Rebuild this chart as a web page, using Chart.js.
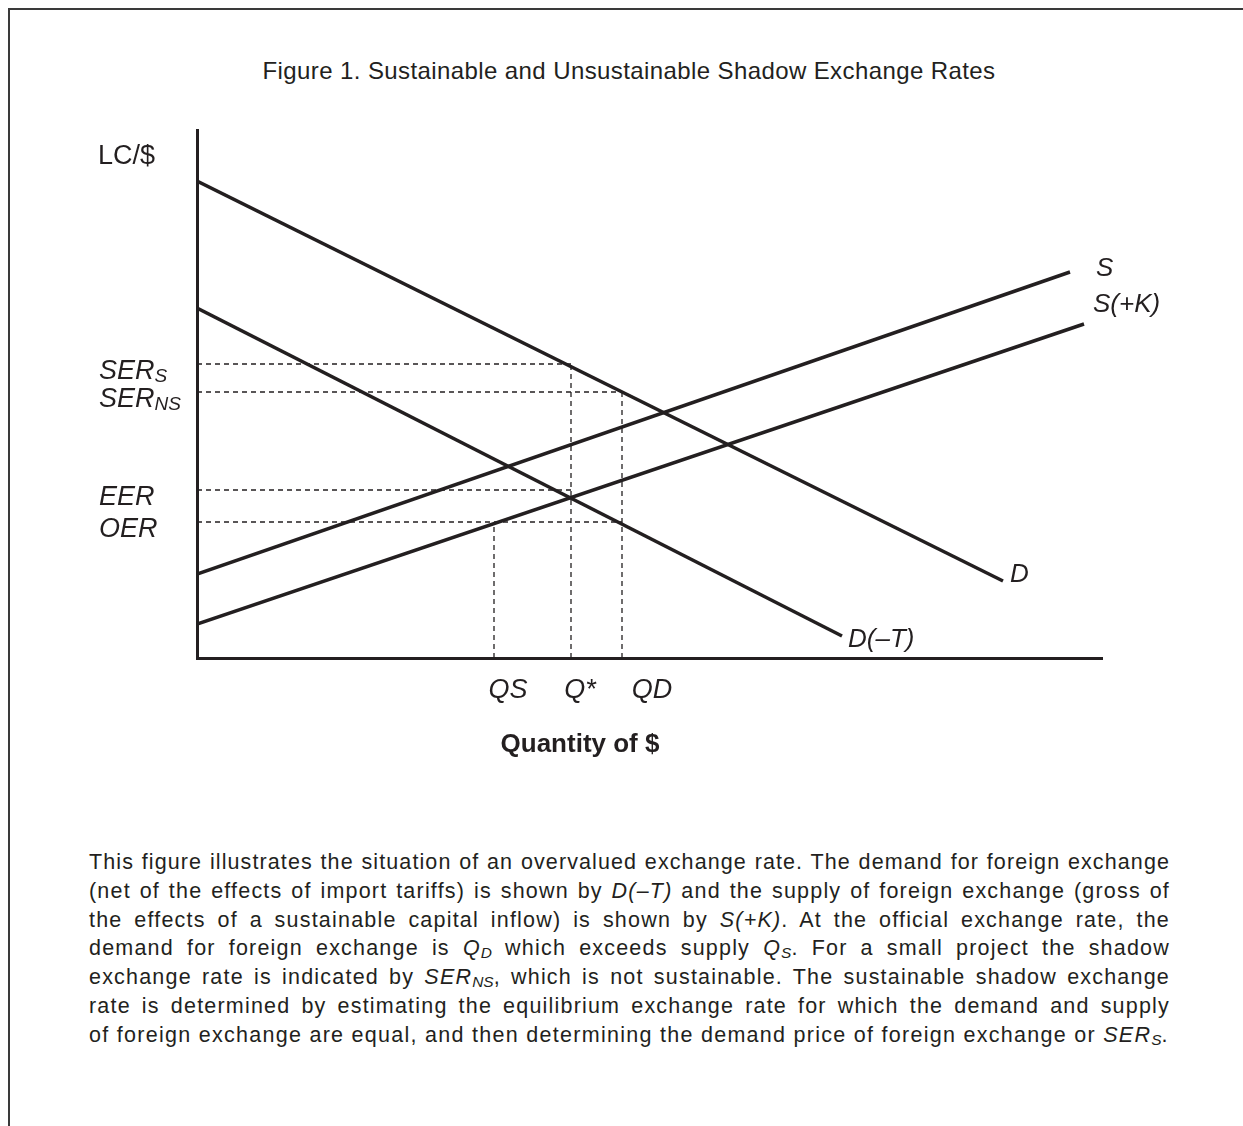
<!DOCTYPE html>
<html>
<head>
<meta charset="utf-8">
<script src="https://cdn.jsdelivr.net/npm/chart.js@4.4.1/dist/chart.umd.min.js"></script>
<style>
  body { margin: 0; background: #fff; font-family: "Liberation Sans", Arial, sans-serif; color: #231f20; }
  #page { position: relative; width: 1243px; height: 1126px; overflow: hidden; }
  #frame { position: absolute; left: 8px; top: 8px; right: 0; bottom: 0; border-top: 2px solid #3a3a3a; border-left: 2px solid #3a3a3a; }
  #title { position: absolute; left: 0; width: 1258px; top: 59px; text-align: center; font-size: 24px; line-height: 24px; letter-spacing: 0.4px; }
  #chart { position: absolute; left: 0; top: 0; }
  #note { position: absolute; left: 89px; top: 848px; width: 1081px; font-size: 21.5px; line-height: 28.8px; letter-spacing: 1.2px; }
  #note div { text-align: justify; text-align-last: justify; white-space: nowrap; }
  #note div.tight { letter-spacing: 1.1px; }
  #note div.last { text-align-last: left; letter-spacing: 1.28px; }
  #note sub { font-size: 0.72em; vertical-align: -0.18em; line-height: 0; letter-spacing: 0; }
</style>
</head>
<body>
<div id="page">
  <div id="frame"></div>
  <div id="title">Figure 1. Sustainable and Unsustainable Shadow Exchange Rates</div>
  <canvas id="chart" width="1243" height="800"></canvas>
  <div id="note">
    <div class="tight">This figure illustrates the situation of an overvalued exchange rate. The demand for foreign exchange</div>
    <div>(net of the effects of import tariffs) is shown by <i>D(–T)</i> and the supply of foreign exchange (gross of</div>
    <div>the effects of a sustainable capital inflow) is shown by <i>S(+K)</i>. At the official exchange rate, the</div>
    <div>demand for foreign exchange is <i>Q<sub>D</sub></i> which exceeds supply <i>Q<sub>S</sub></i>. For a small project the shadow</div>
    <div>exchange rate is indicated by <i>SER<sub>NS</sub></i>, which is not sustainable. The sustainable shadow exchange</div>
    <div>rate is determined by estimating the equilibrium exchange rate for which the demand and supply</div>
    <div class="last">of foreign exchange are equal, and then determining the demand price of foreign exchange or <i>SER<sub>S</sub></i>.</div>
  </div>
</div>
<script>
// curves (quantity, LC/$) in arbitrary units
const demandD = [{ x: 0, y: 477 }, { x: 806, y: 77 }];
const demandNoTariff = [{ x: 0, y: 350 }, { x: 645, y: 22 }];
const supplyS = [{ x: 0, y: 84 }, { x: 873, y: 386 }];
const supplyCapital = [{ x: 0, y: 34 }, { x: 887, y: 334 }];
const curveNames = ["D", "D(–T)", "S", "S(+K)"];

// exchange rates marked on the vertical axis
const rateNames = ["SER", "SER", "EER", "OER"];
const rateSubs = ["S", "NS", "", ""];
const rateValues = [294, 266, 168, 136];
const rateUpToQ = [374, 425, 374, 425];

// quantities marked on the horizontal axis
const qNames = ["QS", "Q*", "QD"];
const qValues = [297, 374, 425];
const qUpToRate = [136, 294, 266];

const axisMaxX = 905;
const axisMaxY = 528;

const INK = "#231f20";
const FONT = '"Liberation Sans", Arial, sans-serif';

// label placement (pixels)
const curveLabelShift = [[7, 1], [6, 11], [26, 4], [9, -12]];
const qLabelShift = [14, 9, 30];

const datasets = [];
[demandD, demandNoTariff, supplyS, supplyCapital].forEach((pts, i) => {
  datasets.push({ label: curveNames[i], data: pts, borderColor: INK, borderWidth: 3.5, pointRadius: 0, showLine: true, borderCapStyle: "butt" });
});
rateValues.forEach((v, i) => {
  datasets.push({ label: rateNames[i] + rateSubs[i], data: [{ x: 0, y: v }, { x: rateUpToQ[i], y: v }],
    borderColor: INK, borderWidth: 1.3, borderDash: [5, 4], pointRadius: 0, showLine: true });
});
qValues.forEach((q, i) => {
  datasets.push({ label: qNames[i], data: [{ x: q, y: 0 }, { x: q, y: qUpToRate[i] }],
    borderColor: INK, borderWidth: 1.3, borderDash: [5, 4], pointRadius: 0, showLine: true });
});

function subText(ctx, x, y, main, sub, size) {
  ctx.font = `italic ${size}px ${FONT}`;
  ctx.fillText(main, x, y);
  if (!sub) return;
  const w = ctx.measureText(main).width;
  ctx.font = `italic ${Math.round(size * 0.72)}px ${FONT}`;
  ctx.fillText(sub, x + w, y + 3);
}

const labelPlugin = {
  id: "econLabels",
  afterDraw(chart) {
    const { ctx, chartArea } = chart;
    const xs = chart.scales.x, ys = chart.scales.y;
    ctx.save();
    ctx.fillStyle = INK;
    ctx.textBaseline = "alphabetic";
    ctx.textAlign = "left";

    ctx.font = `27px ${FONT}`;
    ctx.fillText("LC/$", 98, chartArea.top + 34);

    rateValues.forEach((v, i) => {
      subText(ctx, 99, ys.getPixelForValue(v) + 15, rateNames[i], rateSubs[i], 27);
    });

    ctx.textAlign = "center";
    ctx.font = `italic 27px ${FONT}`;
    qValues.forEach((q, i) => {
      ctx.fillText(qNames[i], xs.getPixelForValue(q) + qLabelShift[i], chartArea.bottom + 40);
    });

    ctx.font = `bold 26px ${FONT}`;
    ctx.fillText("Quantity of $", 580, chartArea.bottom + 94);

    ctx.textAlign = "left";
    [demandD, demandNoTariff, supplyS, supplyCapital].forEach((pts, i) => {
      const end = pts[pts.length - 1];
      ctx.font = `italic 26px ${FONT}`;
      ctx.fillText(curveNames[i], xs.getPixelForValue(end.x) + curveLabelShift[i][0], ys.getPixelForValue(end.y) + curveLabelShift[i][1]);
    });
    ctx.restore();
  }
};

new Chart(document.getElementById("chart"), {
  type: "scatter",
  data: { datasets },
  options: {
    responsive: false,
    animation: false,
    layout: { padding: { left: 197, top: 130, right: 141, bottom: 142 } },
    plugins: { legend: { display: false }, tooltip: { enabled: false }, title: { display: false } },
    scales: {
      x: { type: "linear", min: 0, max: axisMaxX, ticks: { display: false },
        grid: { display: false, drawTicks: false }, border: { display: true, color: INK, width: 3 } },
      y: { type: "linear", min: 0, max: axisMaxY, ticks: { display: false },
        grid: { display: false, drawTicks: false }, border: { display: true, color: INK, width: 3 } }
    }
  },
  plugins: [labelPlugin]
});
</script>
</body>
</html>
